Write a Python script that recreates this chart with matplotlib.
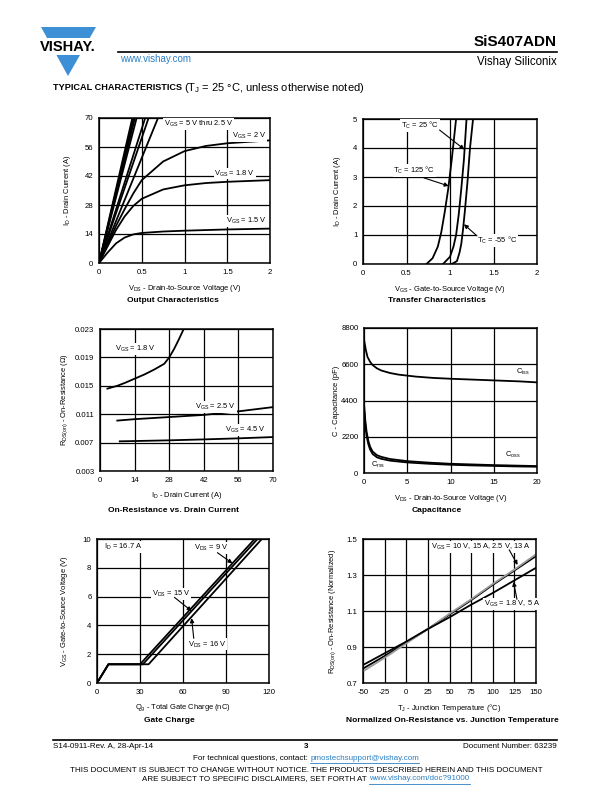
import matplotlib
matplotlib.use('Agg')
import matplotlib.pyplot as plt
from matplotlib.patches import Polygon, Rectangle

plt.rcParams['font.family'] = ['Liberation Sans', 'DejaVu Sans']
plt.rcParams['mathtext.fontset'] = 'custom'
plt.rcParams['mathtext.rm'] = 'Liberation Sans'
plt.rcParams['mathtext.it'] = 'Liberation Sans'
plt.rcParams['axes.unicode_minus'] = False

# ---- data ----
# Output characteristics (VDS in V, ID in A)
out_vds_15 = [0, 0.1, 0.2, 0.3, 0.4, 0.5, 0.75, 1.0, 1.5, 2.0]
out_id_15 = [0, 5, 9.5, 12.3, 13.8, 14.5, 15.2, 15.6, 16.2, 16.6]
out_vds_18 = [0, 0.1, 0.2, 0.3, 0.4, 0.5, 0.75, 1.0, 1.25, 1.5, 2.0]
out_id_18 = [0, 8, 16, 22.5, 27.5, 31, 35.5, 37.5, 38.6, 39.2, 40.0]
out_vds_20 = [0, 0.1, 0.2, 0.3, 0.4, 0.5, 0.75, 1.0, 1.25, 1.5, 2.0]
out_id_20 = [0, 9, 18, 26, 33.5, 40, 49, 54, 56.5, 57.8, 59.2]
# 5 V thru 2.5 V: linear region, VDS where each line reaches 70 A
steep_vds_end = [0.39, 0.405, 0.42, 0.44, 0.54, 0.58, 0.69]

# Transfer characteristics (VGS in V, ID in A)
tr_vgs_125 = [0.73, 0.80, 0.86, 0.90, 0.94, 0.98, 1.02, 1.045, 1.07]
tr_id_125 = [0, 0.2, 0.6, 1.1, 1.8, 2.6, 3.6, 4.3, 5.0]
tr_vgs_25 = [0.92, 1.0, 1.04, 1.07, 1.10, 1.13, 1.16, 1.19]
tr_id_25 = [0, 0.25, 0.6, 1.0, 1.7, 2.6, 3.6, 5.0]
tr_vgs_m55 = [1.02, 1.08, 1.11, 1.13, 1.15, 1.17, 1.20, 1.23, 1.265]
tr_id_m55 = [0, 0.1, 0.4, 0.7, 1.2, 1.8, 2.8, 4.0, 5.0]

# On-resistance vs drain current (ID in A, RDS in ohm)
ron_id_18 = [3, 7, 10, 14, 18, 22, 26, 28, 30, 32, 34]
ron_r_18 = [0.0146, 0.0150, 0.0154, 0.0160, 0.0166, 0.0173, 0.0181, 0.0190, 0.0202, 0.0216, 0.0231]
ron_id_25 = [7, 14, 28, 42, 56, 70]
ron_r_25 = [0.0101, 0.0103, 0.0106, 0.0109, 0.0114, 0.0120]
ron_id_45 = [8, 14, 28, 42, 56, 70]
ron_r_45 = [0.00718, 0.00722, 0.00732, 0.00745, 0.00760, 0.00778]

# Capacitance (VDS in V, C in pF)
cap_vds_iss = [0, 0.2, 0.4, 0.7, 1, 1.5, 2, 3, 4, 6, 8, 10, 12, 14, 16, 18, 20]
cap_iss = [8100, 7500, 7050, 6750, 6550, 6350, 6220, 6070, 5970, 5850, 5770, 5720, 5680, 5640, 5600, 5560, 5500]
cap_vds_low = [0, 0.15, 0.3, 0.5, 0.7, 1.0, 1.5, 2, 3, 5, 7.5, 10, 12.5, 15, 17.5, 20]
cap_oss = [4200, 3200, 2500, 1950, 1600, 1300, 1080, 980, 850, 720, 630, 560, 520, 480, 450, 420]
cap_rss = [3900, 2900, 2250, 1750, 1430, 1150, 950, 860, 750, 640, 560, 500, 460, 430, 400, 380]

# Gate charge (Qg in nC, VGS in V)
gc_qg_9 = [0, 8, 30, 110]
gc_qg_15 = [0, 8, 32, 112]
gc_qg_16 = [0, 8, 36, 115]
gc_vgs = [0, 1.3, 1.3, 10]

# Normalized on-resistance vs junction temperature
tj = [-50, -25, 0, 25, 50, 75, 100, 125, 150]
rn_10v = [0.78, 0.85, 0.925, 1.0, 1.08, 1.16, 1.245, 1.325, 1.405]
rn_25v = [0.765, 0.84, 0.92, 1.0, 1.085, 1.165, 1.25, 1.33, 1.415]
rn_18v = [0.80, 0.865, 0.93, 1.0, 1.065, 1.135, 1.2, 1.27, 1.34]

W, H = 612, 792
fig = plt.figure(figsize=(6.12, 7.92), dpi=100)
renderer = fig.canvas.get_renderer()

# page overlay in pixel coordinates
pg = fig.add_axes([0, 0, 1, 1])
pg.set_xlim(0, W)
pg.set_ylim(H, 0)
pg.axis('off')

BLUE = '#3d8fd6'
LINK = '#2a7fc4'


def text_run(x, y, parts, center=False):
    # lay out (text, color, kwargs) pieces left to right; optionally centre the run on x
    objs = []
    for s, c, kw in parts:
        objs.append(pg.text(0, y, s, color=c, ha='left', va='center', **kw))
    widths = [o.get_window_extent(renderer).width for o in objs]
    cx = x - sum(widths) / 2 if center else x
    spans = []
    for o, w in zip(objs, widths):
        o.set_x(cx)
        spans.append((cx, cx + w))
        cx += w
    return spans


pg.add_patch(Polygon([[41, 27], [96, 27], [68, 76]], closed=True, color=BLUE, lw=0))
pg.add_patch(Rectangle((38, 38), 61, 17, color='white', lw=0))
pg.text(68, 47, 'VISHAY.', fontsize=10.5, fontweight='bold', ha='center', va='center')
pg.plot([118, 557], [52, 52], color='black', lw=1.2)
pg.text(557, 42, 'SiS407ADN', fontsize=11, fontweight='bold', ha='right', va='center')
pg.text(557, 62, 'Vishay Siliconix', fontsize=8.3, ha='right', va='center')
pg.text(120, 59, 'www.vishay.com', fontsize=7, color=LINK, ha='left', va='center')
text_run(53, 88, [('TYPICAL CHARACTERISTICS ', 'black', dict(fontsize=6.6, fontweight='bold')),
                  (r'(T$_\mathregular{J}$ = 25 °C, unless otherwise noted)', 'black', dict(fontsize=8.0))])

# footer
FS = 5.8
pg.plot([53, 557], [740, 740], color='black', lw=1.2)
pg.text(53, 747, 'S14-0911-Rev. A, 28-Apr-14', fontsize=FS, ha='left', va='center')
pg.text(306, 747, '3', fontsize=FS, fontweight='bold', ha='center', va='center')
pg.text(557, 747, 'Document Number: 63239', fontsize=FS, ha='right', va='center')
sp = text_run(306, 758, [('For technical questions, contact: ', 'black', dict(fontsize=FS)),
                         ('pmostechsupport@vishay.com', LINK, dict(fontsize=FS))], center=True)
pg.plot(sp[1], [762.5, 762.5], color=LINK, lw=0.6)
pg.text(306, 770, 'THIS DOCUMENT IS SUBJECT TO CHANGE WITHOUT NOTICE. THE PRODUCTS DESCRIBED HEREIN AND THIS DOCUMENT',
        fontsize=FS, ha='center', va='center')
sp = text_run(306, 779, [('ARE SUBJECT TO SPECIFIC DISCLAIMERS, SET FORTH AT ', 'black', dict(fontsize=FS)),
                         ('www.vishay.com/doc?91000', LINK, dict(fontsize=FS))], center=True)
pg.plot(sp[1], [783.5, 783.5], color=LINK, lw=0.6)

# chart titles
titles = [(173, 300, 'Output Characteristics'), (437, 300, 'Transfer Characteristics'),
          (173, 510, 'On-Resistance vs. Drain Current'), (437, 510, 'Capacitance'),
          (169, 721, 'Gate Charge'), (452, 721, 'Normalized On-Resistance vs. Junction Temperature')]
for tx, ty, t in titles:
    pg.text(tx, ty, t, fontsize=6.0, fontweight='bold', ha='center', va='center')

TICK_FS = 5.6
LAB_FS = 5.4
ANN_FS = 5.4
LW = 1.3
box = dict(facecolor='white', edgecolor='none', pad=0.6)


def make_ax(x0, y0, x1, y1, xlim, ylim, xticks, yticks, xlabel, ylabel, ylab_x, xtl=None, ytl=None):
    ax = fig.add_axes([x0 / W, 1 - y1 / H, (x1 - x0) / W, (y1 - y0) / H])
    ax.set_xlim(*xlim)
    ax.set_ylim(*ylim)
    ax.set_xticks(xticks)
    ax.set_yticks(yticks)
    if xtl is not None:
        ax.set_xticklabels(xtl)
    if ytl is not None:
        ax.set_yticklabels(ytl)
    ax.tick_params(length=0, labelsize=TICK_FS, pad=4)
    ax.grid(True, color='black', lw=0.9)
    ax.set_axisbelow(True)
    for s in ax.spines.values():
        s.set_linewidth(1.1)
    ax.set_xlabel(xlabel, fontsize=LAB_FS)
    ax.set_ylabel(ylabel, fontsize=LAB_FS)
    ax.xaxis.set_label_coords(0.5, -0.135)
    ax.yaxis.set_label_coords(ylab_x, 0.5)
    return ax


def arrow(ax, start, tip):
    ax.annotate('', xy=tip, xytext=start,
                arrowprops=dict(arrowstyle='-|>', color='black', lw=0.8, mutation_scale=6,
                                shrinkA=0, shrinkB=0))


# ---- Output characteristics ----
ax = make_ax(99, 118, 270, 263, (0, 2), (0, 70), [0, 0.5, 1, 1.5, 2], [0, 14, 28, 42, 56, 70],
             r'V$_\mathregular{DS}$ - Drain-to-Source Voltage (V)', r'I$_\mathregular{D}$ - Drain Current (A)',
             -0.152, xtl=['0', '0.5', '1', '1.5', '2'])
for xe in steep_vds_end:
    ax.plot([0, xe], [0, 70], color='black', lw=LW)
ax.plot(out_vds_20, out_id_20, color='black', lw=LW)
ax.plot(out_vds_18, out_id_18, color='black', lw=LW)
ax.plot(out_vds_15, out_id_15, color='black', lw=LW)
ax.text(0.76, 67.3, r'V$_\mathregular{GS}$ = 5 V thru 2.5 V', fontsize=ANN_FS, va='center', bbox=box)
ax.text(1.55, 61.5, r'V$_\mathregular{GS}$ = 2 V', fontsize=ANN_FS, va='center', bbox=box)
ax.text(1.35, 43.2, r'V$_\mathregular{GS}$ = 1.8 V', fontsize=ANN_FS, va='center', bbox=box)
ax.text(1.48, 20.2, r'V$_\mathregular{GS}$ = 1.5 V', fontsize=ANN_FS, va='center', bbox=box)

# ---- Transfer characteristics ----
ax = make_ax(363, 119, 537, 264, (0, 2), (0, 5), [0, 0.5, 1, 1.5, 2], [0, 1, 2, 3, 4, 5],
             r'V$_\mathregular{GS}$ - Gate-to-Source Voltage (V)', r'I$_\mathregular{D}$ - Drain Current (A)',
             -0.115, xtl=['0', '0.5', '1', '1.5', '2'])
ax.plot(tr_vgs_125, tr_id_125, color='black', lw=LW)
ax.plot(tr_vgs_25, tr_id_25, color='black', lw=LW)
ax.plot(tr_vgs_m55, tr_id_m55, color='black', lw=LW)
ax.text(0.44, 4.77, r'T$_\mathregular{C}$ = 25 °C', fontsize=ANN_FS, va='center', bbox=box)
arrow(ax, (0.88, 4.62), (1.165, 3.95))
ax.text(0.35, 3.23, r'T$_\mathregular{C}$ = 125 °C', fontsize=ANN_FS, va='center', bbox=box)
arrow(ax, (0.70, 2.97), (0.985, 2.69))
ax.text(1.31, 0.80, r'T$_\mathregular{C}$ = -55 °C', fontsize=ANN_FS, va='center', bbox=box)
arrow(ax, (1.31, 0.97), (1.16, 1.37))

# ---- On-resistance vs drain current ----
ax = make_ax(100, 329, 273, 471, (0, 70), (0.003, 0.023), [0, 14, 28, 42, 56, 70],
             [0.003, 0.007, 0.011, 0.015, 0.019, 0.023],
             r'I$_\mathregular{D}$ - Drain Current (A)',
             r'R$_\mathregular{DS(on)}$ - On-Resistance ($\Omega$)', -0.173,
             ytl=['0.003', '0.007', '0.011', '0.015', '0.019', '0.023'])
ax.plot(ron_id_18, ron_r_18, color='black', lw=LW)
ax.plot(ron_id_25, ron_r_25, color='black', lw=LW)
ax.plot(ron_id_45, ron_r_45, color='black', lw=LW)
ax.text(6, 0.0202, r'V$_\mathregular{GS}$ = 1.8 V', fontsize=ANN_FS, va='center', bbox=box)
ax.text(38.4, 0.0120, r'V$_\mathregular{GS}$ = 2.5 V', fontsize=ANN_FS, va='center', bbox=box)
ax.text(50.7, 0.0088, r'V$_\mathregular{GS}$ = 4.5 V', fontsize=ANN_FS, va='center', bbox=box)

# ---- Capacitance ----
ax = make_ax(364, 328, 537, 473, (0, 20), (0, 8800), [0, 5, 10, 15, 20], [0, 2200, 4400, 6600, 8800],
             r'V$_\mathregular{DS}$ - Drain-to-Source Voltage (V)', 'C - Capacitance (pF)', -0.139)
ax.plot(cap_vds_iss, cap_iss, color='black', lw=LW)
ax.plot(cap_vds_low, cap_oss, color='black', lw=LW)
ax.plot(cap_vds_low, cap_rss, color='black', lw=LW)
ax.text(17.6, 6130, r'C$_\mathregular{iss}$', fontsize=ANN_FS, va='center')
ax.text(16.3, 1070, r'C$_\mathregular{oss}$', fontsize=ANN_FS, va='center')
ax.text(0.76, 465, r'C$_\mathregular{rss}$', fontsize=ANN_FS, va='center')

# ---- Gate charge ----
ax = make_ax(97, 539, 269, 683, (0, 120), (0, 10), [0, 30, 60, 90, 120], [0, 2, 4, 6, 8, 10],
             r'Q$_\mathregular{g}$ - Total Gate Charge (nC)',
             r'V$_\mathregular{GS}$ - Gate-to-Source Voltage (V)', -0.157)
ax.plot(gc_qg_9, gc_vgs, color='black', lw=LW)
ax.plot(gc_qg_15, gc_vgs, color='black', lw=LW)
ax.plot(gc_qg_16, gc_vgs, color='black', lw=LW)
ax.text(4.9, 9.42, r'I$_\mathregular{D}$ = 16.7 A', fontsize=ANN_FS, va='center', bbox=box)
ax.text(67.9, 9.38, r'V$_\mathregular{DS}$ = 9 V', fontsize=ANN_FS, va='center', bbox=box)
arrow(ax, (84, 9.05), (94.5, 8.31))
ax.text(38.2, 6.19, r'V$_\mathregular{DS}$ = 15 V', fontsize=ANN_FS, va='center', bbox=box)
arrow(ax, (54, 5.95), (66, 5.0))
ax.text(63.2, 2.68, r'V$_\mathregular{DS}$ = 16 V', fontsize=ANN_FS, va='center', bbox=box)
arrow(ax, (67.5, 3.1), (66, 4.5))

# ---- Normalized on-resistance vs junction temperature ----
ax = make_ax(363, 539, 536, 683, (-50, 150), (0.7, 1.5), [-50, -25, 0, 25, 50, 75, 100, 125, 150],
             [0.7, 0.9, 1.1, 1.3, 1.5],
             r'T$_\mathregular{J}$ - Junction Temperature (°C)',
             r'R$_\mathregular{DS(on)}$ - On-Resistance (Normalized)', -0.145,
             ytl=['0.7', '0.9', '1.1', '1.3', '1.5'])
ax.plot(tj, rn_10v, color='black', lw=LW)
ax.plot(tj, rn_25v, color='#999999', lw=LW)
ax.plot(tj, rn_18v, color='black', lw=LW)
ax.text(28.3, 1.457, r'V$_\mathregular{GS}$ = 10 V, 15 A, 2.5 V, 13 A', fontsize=ANN_FS, va='center', bbox=box)
arrow(ax, (119, 1.44), (128.7, 1.356))
ax.text(90, 1.14, r'V$_\mathregular{GS}$ = 1.8 V, 5 A', fontsize=ANN_FS, va='center', bbox=box)
arrow(ax, (128, 1.165), (124, 1.262))

fig.savefig('out.png', dpi=100)
